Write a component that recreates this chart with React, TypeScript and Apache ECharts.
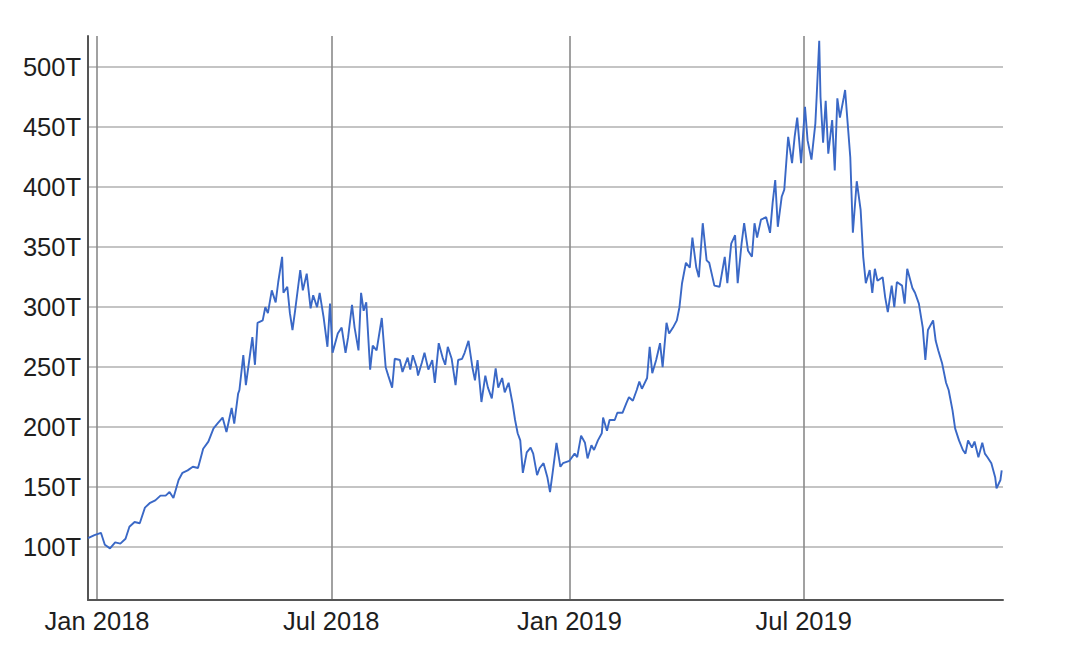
import React, { useEffect, useRef } from "react";
import * as echarts from "echarts";

const dates: string[] = [
  "2017-12-25","2017-12-30","2018-01-04","2018-01-07","2018-01-11","2018-01-15","2018-01-19","2018-01-23","2018-01-26","2018-01-30",
  "2018-02-03","2018-02-07","2018-02-11","2018-02-15","2018-02-19","2018-02-23","2018-02-26","2018-03-01","2018-03-05","2018-03-08",
  "2018-03-12","2018-03-16","2018-03-20","2018-03-24","2018-03-28","2018-04-01","2018-04-04","2018-04-08","2018-04-11","2018-04-15",
  "2018-04-17","2018-04-20","2018-04-21","2018-04-24","2018-04-26","2018-05-01","2018-05-03","2018-05-05","2018-05-09","2018-05-11",
  "2018-05-13","2018-05-16","2018-05-19","2018-05-21","2018-05-24","2018-05-25","2018-05-28","2018-05-30","2018-06-01","2018-06-03",
  "2018-06-07","2018-06-09","2018-06-12","2018-06-15","2018-06-17","2018-06-20","2018-06-22","2018-06-25","2018-06-28","2018-06-30",
  "2018-07-02","2018-07-06","2018-07-09","2018-07-12","2018-07-14","2018-07-17","2018-07-19","2018-07-22","2018-07-24","2018-07-26",
  "2018-07-28","2018-07-31","2018-08-02","2018-08-05","2018-08-09","2018-08-12","2018-08-14","2018-08-17","2018-08-19","2018-08-23",
  "2018-08-25","2018-08-29","2018-08-31","2018-09-02","2018-09-05","2018-09-06","2018-09-09","2018-09-11","2018-09-14","2018-09-17",
  "2018-09-19","2018-09-22","2018-09-25","2018-09-27","2018-09-29","2018-10-02","2018-10-05","2018-10-07","2018-10-10","2018-10-12",
  "2018-10-15","2018-10-18","2018-10-20","2018-10-22","2018-10-25","2018-10-28","2018-10-30","2018-11-02","2018-11-05","2018-11-07",
  "2018-11-10","2018-11-12","2018-11-15","2018-11-18","2018-11-20","2018-11-22","2018-11-24","2018-11-26","2018-11-29","2018-12-02",
  "2018-12-04","2018-12-07","2018-12-09","2018-12-12","2018-12-15","2018-12-17","2018-12-19","2018-12-22","2018-12-25","2018-12-27",
  "2019-01-01","2019-01-05","2019-01-07","2019-01-10","2019-01-13","2019-01-15","2019-01-18","2019-01-20","2019-01-23","2019-01-26",
  "2019-01-27","2019-01-30","2019-02-01","2019-02-05","2019-02-07","2019-02-11","2019-02-14","2019-02-16","2019-02-19","2019-02-22",
  "2019-02-24","2019-02-26","2019-03-02","2019-03-04","2019-03-06","2019-03-09","2019-03-12","2019-03-14","2019-03-17","2019-03-19",
  "2019-03-22","2019-03-25","2019-03-27","2019-03-29","2019-04-01","2019-04-04","2019-04-06","2019-04-09","2019-04-11","2019-04-14",
  "2019-04-17","2019-04-19","2019-04-23","2019-04-27","2019-05-01","2019-05-03","2019-05-06","2019-05-09","2019-05-11","2019-05-14",
  "2019-05-16","2019-05-19","2019-05-22","2019-05-24","2019-05-26","2019-05-29","2019-06-02","2019-06-05","2019-06-07","2019-06-09",
  "2019-06-11","2019-06-14","2019-06-16","2019-06-19","2019-06-22","2019-06-24","2019-06-26","2019-06-29","2019-07-02","2019-07-04",
  "2019-07-07","2019-07-10","2019-07-11","2019-07-13","2019-07-14","2019-07-16","2019-07-18","2019-07-20","2019-07-23","2019-07-25",
  "2019-07-27","2019-07-29","2019-08-01","2019-08-02","2019-08-04","2019-08-06","2019-08-08","2019-08-11","2019-08-14","2019-08-16",
  "2019-08-18","2019-08-21","2019-08-23","2019-08-25","2019-08-27","2019-08-31","2019-09-02","2019-09-04","2019-09-07","2019-09-09",
  "2019-09-11","2019-09-15","2019-09-17","2019-09-19","2019-09-23","2019-09-25","2019-09-28","2019-10-01","2019-10-03","2019-10-05",
  "2019-10-09","2019-10-11","2019-10-13","2019-10-16","2019-10-19","2019-10-21","2019-10-24","2019-10-26","2019-10-29","2019-11-01",
  "2019-11-03","2019-11-05","2019-11-08","2019-11-10","2019-11-13","2019-11-16","2019-11-18","2019-11-20","2019-11-23","2019-11-26",
  "2019-11-27","2019-11-30","2019-12-01"
];

const values: number[] = [
  107.5,110,112,102,99,104,103,107,117,121,
  120,133,137,139,143,143,146,141,156,162,
  164,167,166,182,188,199,203,208,196,216,
  203,228,231,260,235,275,252,287,289,300,
  295,314,304,321,342,312,317,295,281,297,
  331,314,328,299,310,300,312,292,267,303,
  262,278,283,262,275,302,283,264,312,297,
  304,248,268,264,291,250,243,233,257,256,
  246,258,248,260,250,243,254,262,248,256,
  237,270,258,252,267,257,235,256,257,262,
  272,250,239,256,221,243,233,224,249,233,
  241,229,237,220,206,195,189,162,179,183,
  178,160,166,170,158,146,162,187,167,170,
  172,178,175,193,187,174,185,181,189,195,
  208,197,206,206,212,212,220,225,222,231,
  238,232,241,267,245,256,270,250,287,278,
  283,289,300,320,337,333,358,333,325,370,
  339,337,318,317,342,320,353,360,320,353,
  370,347,342,370,358,373,375,362,387,406,
  367,392,398,442,420,442,458,420,467,439,
  423,453,475,522,475,437,472,428,456,414,
  474,458,475,481,453,425,362,405,381,342,
  320,331,312,332,322,325,308,296,318,300,
  321,318,303,332,316,312,303,283,256,281,
  289,272,264,253,237,231,214,199,189,181,
  178,189,183,188,175,187,178,175,170,158,
  149,156,164
];

const xTickDates: string[] = ["2018-01-01", "2018-07-01", "2019-01-01", "2019-07-01"];
const yTickValues: number[] = [100, 150, 200, 250, 300, 350, 400, 450, 500];
const monthNames: string[] = ["Jan","Feb","Mar","Apr","May","Jun","Jul","Aug","Sep","Oct","Nov","Dec"];

const xMin = "2017-12-25";
const xMax = "2019-12-02";
const yMin = 56;
const yMax = 526;

export default function App() {
  const ref = useRef<HTMLDivElement>(null);
  useEffect(() => {
    document.body.style.margin = "0";
    if (!ref.current) return;
    const chart = echarts.init(ref.current, undefined, { renderer: "svg" });
    const toTs = (s: string) => {
      const [y, m, d] = s.split("-").map(Number);
      return Date.UTC(y, m - 1, d);
    };
    const data = dates.map((d, i) => [toTs(d), values[i]]);
    const xTicks = xTickDates.map(toTs);
    const font = "'Liberation Sans', Arial, Helvetica, sans-serif";
    chart.setOption({
      animation: false,
      backgroundColor: "#ffffff",
      grid: { left: 88, right: 77, top: 36, bottom: 57, containLabel: false },
      xAxis: {
        type: "value",
        min: toTs(xMin),
        max: toTs(xMax),
        axisLine: { show: true, lineStyle: { color: "#555", width: 2 } },
        axisTick: { show: false, customValues: xTicks },
        axisLabel: {
          customValues: xTicks,
          color: "#1e1e1e",
          fontSize: 25.5,
          fontFamily: font,
          margin: 8,
          formatter: (v: number) => {
            const dt = new Date(v);
            return monthNames[dt.getUTCMonth()] + " " + dt.getUTCFullYear();
          },
        },
        splitLine: { show: true, lineStyle: { color: "#8a8a8a", width: 1.6 } },
      },
      yAxis: {
        type: "value",
        min: yMin,
        max: yMax,
        axisLine: { show: true, lineStyle: { color: "#555", width: 2 } },
        axisTick: { show: false, customValues: yTickValues },
        axisLabel: {
          customValues: yTickValues,
          color: "#1e1e1e",
          fontSize: 25.5,
          fontFamily: font,
          margin: 7,
          formatter: (v: number) => v + "T",
        },
        splitLine: { show: true, lineStyle: { color: "#b0b0b0", width: 1.6 } },
      },
      series: [
        {
          type: "line",
          data,
          showSymbol: false,
          symbol: "none",
          lineStyle: { color: "#3a68c6", width: 1.9 },
          z: 3,
        },
      ],
    });
    return () => chart.dispose();
  }, []);
  return (
    <div
      ref={ref}
      style={{ position: "absolute", left: 0, top: 0, width: 1080, height: 657 }}
    />
  );
}
